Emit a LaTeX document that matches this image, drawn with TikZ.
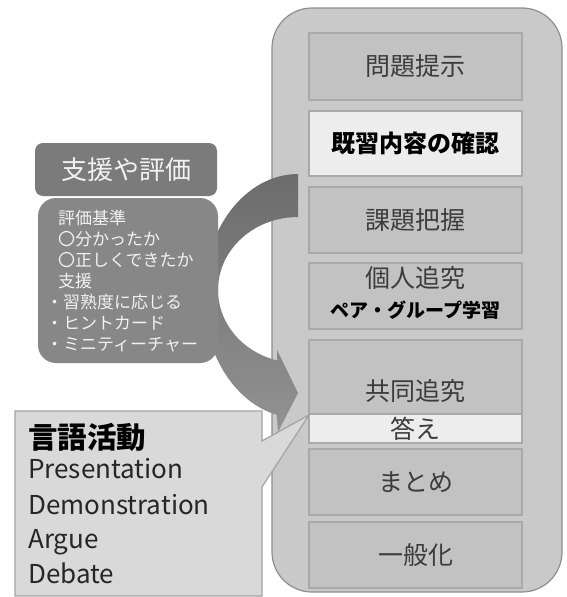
\documentclass[tikz,border=0pt]{standalone}
\usepackage{fontspec}
\setmainfont{Noto Sans CJK JP}
\definecolor{panelfill}{HTML}{C9C9C9}
\definecolor{panelline}{HTML}{8E8E8E}
\definecolor{stagefill}{HTML}{C2C2C2}
\definecolor{stageline}{HTML}{A9A9A9}
\definecolor{lightfill}{HTML}{EDEDED}
\definecolor{stagetext}{HTML}{3C3C3C}
\definecolor{supfill}{HTML}{7B7B7B}
\definecolor{critfill}{HTML}{878787}
\definecolor{whitetext}{HTML}{F2F2F2}
\definecolor{arrowtop}{HTML}{6C6C6C}
\definecolor{arrowbot}{HTML}{929292}
\definecolor{callfill}{HTML}{D9D9D9}
\definecolor{callline}{HTML}{A3A3A3}
\begin{document}
\begin{tikzpicture}[x=1pt,y=-1pt,
  stagebox/.style={draw=stageline, fill=stagefill, line width=1.2pt, minimum width=213pt, inner sep=0pt, text=stagetext, font=\fontsize{25}{30}\selectfont},
  lightbox/.style={stagebox, fill=lightfill},
  stagelabel/.style={inner sep=0pt, text=stagetext, font=\fontsize{25}{30}\selectfont},
  critline/.style={anchor=base west, inner sep=0pt, text=whitetext, font=\fontsize{17}{21}\selectfont},
  langline/.style={anchor=base west, inner sep=0pt, text=black!85, font=\fontsize{26}{30}\selectfont}]
\useasboundingbox (0,0) rectangle (566,597);
% right panel
\node[draw=panelline, fill=panelfill, rounded corners=40pt, line width=1.2pt, minimum width=290pt, minimum height=584pt] (panel) at (417,300) {};
\node[stagebox, minimum height=67pt] (p1) at (415.5,66.5) {問題提示};
\node[lightbox, minimum height=65pt, text=black, font=\fontsize{24}{30}\selectfont\bfseries] (p2) at (415.5,143.5) {既習内容の確認};
\node[stagebox, minimum height=66pt] (p3) at (415.5,220) {課題把握};
\node[stagebox, minimum height=66pt] (p4) at (415.5,296) {};
\node[stagelabel] (p4a) at (415.5,278) {個人追究};
\node[stagelabel, text=black, font=\fontsize{19}{24}\selectfont\bfseries] (p4b) at (415.5,310) {ペア・グループ学習};
\node[stagebox, minimum height=74pt] (p5) at (415.5,377) {};
\node[stagelabel] (p5a) at (415.5,391) {共同追究};
\node[lightbox, minimum height=29pt] (p6) at (415.5,428.5) {答え};
\node[stagebox, minimum height=66pt] (p7) at (415.5,482) {まとめ};
\node[stagebox, minimum height=66pt] (p8) at (415.5,555) {一般化};
% curved arrow
\shade[top color=arrowtop, bottom color=arrowbot]
  plot[domain=90:257, samples=60, variable=\t] ({298+94.5*cos(\t)},{296-122*sin(\t)})
  -- (278,432) -- (298,393) -- (277,350)
  -- plot[domain=255:90, samples=60, variable=\t] ({298+80*cos(\t)},{290-73*sin(\t)})
  -- cycle;
% left boxes
\node[fill=supfill, rounded corners=8pt, minimum width=182pt, minimum height=53pt, inner sep=0pt, text=whitetext, font=\fontsize{26}{30}\selectfont] (support) at (126,169.5) {支援や評価};
\node[fill=critfill, rounded corners=18pt, minimum width=180pt, minimum height=165pt, inner sep=0pt] (crit) at (128,280.5) {};
\node[critline] (c1) at (58,224) {評価基準};
\node[critline] (c2) at (58,245) {〇分かったか};
\node[critline] (c3) at (58,266) {〇正しくできたか};
\node[critline] (c4) at (58,287) {支援};
\node[critline] (c5) at (46,308) {・習熟度に応じる};
\node[critline] (c6) at (46,329) {・ヒントカード};
\node[critline] (c7) at (46,350) {・ミニティーチャー};
% callout
\draw[fill=callfill, draw=callline, line width=1.2pt, line join=miter]
  (15,411) -- (262,411) -- (262,441) -- (309,415) -- (262,487) -- (262,596) -- (15,596) -- cycle;
\node[anchor=base west, inner sep=0pt, font=\fontsize{29.5}{32}\selectfont\bfseries] (lang) at (28,448) {言語活動};
\node[langline] (l1) at (28,478) {Presentation};
\node[langline] (l2) at (28,514) {Demonstration};
\node[langline] (l3) at (28,548) {Argue};
\node[langline] (l4) at (28,583) {Debate};
\end{tikzpicture}
\end{document}
